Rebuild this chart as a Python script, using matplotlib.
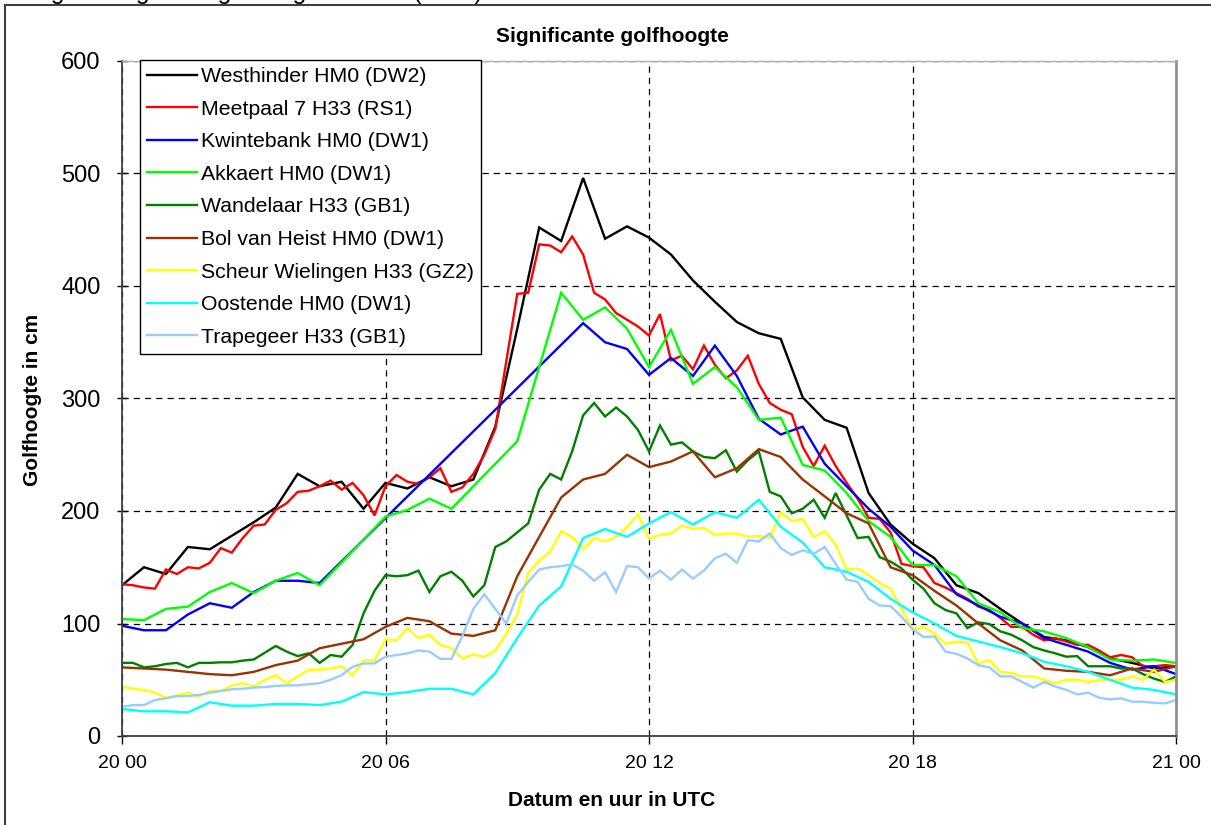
import numpy as np
import matplotlib
matplotlib.use("Agg")
import matplotlib.pyplot as plt
from matplotlib.patches import Rectangle

plt.rcParams['font.family'] = ['Liberation Sans', 'DejaVu Sans']

# ---------------- data (hours after 20 00 UTC, values in cm) ----------------
t_half = [i * 0.5 for i in range(49)]
t_quarter = [i * 0.25 for i in range(97)]

westhinder = [134, 150, 144, 168, 166, 178, 190, 203, 233, 222, 226, 202, 225, 220, 230, 222,
              228, 275, 362, 452, 440, 496, 442, 453, 443, 428, 405, 386, 368, 358, 353, 301,
              281, 274, 216, 188, 171, 158, 134, 127, 113, 100, 88, 85, 79, 69, 65, 60, 62]

meetpaal = [135, 134, 132, 131, 148, 144, 150, 149, 154, 167, 163, 176, 187, 188, 201, 207,
            217, 218, 222, 227, 219, 225, 214, 196, 222, 232, 226, 224, 230, 238, 217, 221,
            233, 250, 273, 333, 393, 394, 437, 436, 430, 444, 428, 394, 388, 376, 370, 364,
            356, 375, 334, 338, 326, 347, 330, 318, 325, 338, 313, 296, 290, 286, 257, 240,
            258, 240, 225, 211, 194, 193, 181, 153, 151, 150, 136, 132, 127, 122, 115, 112,
            105, 97, 97, 90, 85, 87, 84, 81, 81, 76, 70, 72, 70, 62, 62, 63, 62]

kwinte_t = [0, 0.5, 1, 1.5, 2, 2.5, 3, 3.5, 4, 4.5, 10.5, 11, 11.5, 12, 12.5, 13, 13.5, 14,
            14.5, 15, 15.5, 16, 16.5, 17, 17.5, 18, 18.5, 19, 19.5, 20, 20.5, 21, 21.5, 22,
            22.5, 23, 23.5, 24]
kwintebank = [98, 94, 94, 108, 118, 114, 128, 138, 138, 136, 367, 350, 344, 321, 336, 320,
              347, 320, 282, 268, 275, 242, 222, 202, 186, 165, 152, 126, 116, 106, 100, 87,
              81, 75, 65, 59, 62, 55]

akkaert_t = [0, 0.5, 1, 1.5, 2, 2.5, 3, 3.5, 4, 4.5, 6, 6.5, 7, 7.5, 9, 10, 10.5, 11, 11.5,
             12, 12.5, 13, 13.5, 14, 14.5, 15, 15.5, 16, 16.5, 17, 17.5, 18, 18.5, 19, 19.5,
             20, 20.5, 21, 21.5, 22, 22.5, 23, 23.5, 24]
akkaert = [104, 103, 113, 115, 128, 136, 127, 138, 145, 134, 195, 201, 211, 202, 262, 394,
           370, 381, 362, 328, 361, 313, 328, 310, 281, 283, 241, 236, 216, 191, 177, 152,
           152, 142, 118, 110, 96, 93, 87, 79, 68, 67, 68, 65]

wandelaar = [65, 65, 61, 62, 64, 65, 61, 65, 65, 65.5, 65.5, 67, 68, 74, 80, 75,
             71, 73.5, 65, 72, 70.5, 81, 109, 129, 143, 142, 143, 147, 128, 142, 146, 138,
             124, 134, 168, 173, 181, 189, 219, 233, 228, 253, 285, 296, 284, 292, 284, 272,
             253, 276, 259, 261, 253, 248, 247, 254, 235, 245, 253, 217, 213, 198, 202, 210,
             194, 216, 196, 176, 177, 159, 155, 149, 139, 131, 118, 112, 109, 96, 101, 99.5,
             93, 90, 85, 79, 76, 73.5, 70.5, 71, 62, 62, 62, 60, 60, 55, 51, 48, 53]

bol_t = [0, 0.5, 1, 1.5, 2, 2.5, 3, 3.5, 4, 4.5, 5, 5.5, 6, 6.5, 7, 7.5, 8, 8.5, 9, 9.5, 10,
         10.5, 11, 11.5, 12, 12.5, 13, 13.5, 14, 14.5, 15, 15.5, 16, 16.5, 17, 17.5, 18, 18.5,
         19, 19.5, 20, 20.5, 21, 21.5, 22, 22.5, 23, 23.5, 24]
bol_van_heist = [61, 60, 59, 57, 55, 54, 57, 63, 67, 78, 82, 86, 97, 105, 102, 91, 89, 94,
                 142, 177, 212, 228, 233, 250, 239, 244, 253, 230, 238, 255, 248, 228, 213,
                 198, 189, 150, 143, 129, 116, 100, 85, 76, 60, 58, 57, 54, 60, 57, 62]

scheur = [44, 42, 41, 38.5, 34, 36, 38.5, 35, 40, 40, 45, 47, 44, 50, 54, 47,
          53, 59, 59, 60, 62, 54, 67, 67.5, 86, 85, 96, 87, 90, 81, 78, 69,
          72.5, 70.5, 76, 91, 108, 145, 156, 164, 182, 177, 166, 176, 173, 177, 186, 197,
          175, 179, 180, 187, 184, 185, 179, 180, 180, 177, 178, 176, 199, 191, 193, 177,
          182, 170, 148, 149, 143, 136, 131, 113, 95, 97, 91, 82, 84, 83, 64.5, 67.5,
          57, 56, 53, 53, 50, 47, 50, 50, 48, 50, 50, 50, 53, 50, 59, 48, 50]

oostende = [24, 22, 22, 21, 30, 27, 27, 28.5, 28.5, 27.5, 30.5, 39, 37, 39, 42, 42,
            37, 56, 87, 116, 133, 176, 184, 177, 189, 199, 188, 199, 194, 210, 186, 172,
            150, 146, 137, 122, 110, 100, 89, 84, 79, 73.5, 66, 62, 57, 50, 43, 41, 37]

trapegeer = [26, 27.5, 27.5, 32, 33.5, 35.5, 35.5, 36.5, 38.5, 40, 41.5, 42, 43, 43.5, 44.5, 45,
             45, 46, 47, 50, 54, 61.5, 64.5, 64.5, 70.5, 72, 73.5, 76, 75, 68.5, 68.5, 89,
             113, 126, 113, 100, 125, 137, 148, 150, 151, 152.5, 147, 138, 145.5, 128, 151, 150,
             140, 147, 139, 148, 140, 147, 158, 162, 154, 174, 173, 180, 167, 161, 165, 162,
             168, 153, 139, 137, 122, 116, 115.5, 106, 95, 88, 88.5, 75, 73, 69, 63, 61,
             53, 53, 48, 43, 48, 44, 41, 37, 38.5, 34, 32.5, 33.5, 30.5, 30.5, 29.5, 29, 32]

labels = ["Westhinder HM0 (DW2)", "Meetpaal 7 H33 (RS1)", "Kwintebank HM0 (DW1)",
          "Akkaert HM0 (DW1)", "Wandelaar H33 (GB1)", "Bol van Heist HM0 (DW1)",
          "Scheur Wielingen H33 (GZ2)", "Oostende HM0 (DW1)", "Trapegeer H33 (GB1)"]
colors = ["#000000", "#FF0000", "#0000FF", "#00FF00", "#008000", "#993300",
          "#FFFF00", "#00FFFF", "#99CCFF"]
series = [(t_half, westhinder), (t_quarter, meetpaal), (kwinte_t, kwintebank),
          (akkaert_t, akkaert), (t_quarter, wandelaar), (bol_t, bol_van_heist),
          (t_quarter, scheur), (t_half, oostende), (t_quarter, trapegeer)]

xtick_pos = [0, 6, 12, 18, 24]
xtick_labels = ["20 00", "20 06", "20 12", "20 18", "21 00"]
yticks = [0, 100, 200, 300, 400, 500, 600]

# ---------------- figure ----------------
W, H = 1211, 825
fig = plt.figure(figsize=(W / 100, H / 100), dpi=100)
ax = fig.add_axes([122 / W, 1 - 736 / H, (1176 - 122) / W, (736 - 61) / H])

for (tx, vals), lab, col in zip(series, labels, colors):
    ax.plot(tx, vals, color=col, lw=1.7, label=lab, solid_joinstyle='miter')

ax.set_xlim(0, 24)
ax.set_ylim(0, 600)
ax.set_xticks(xtick_pos)
ax.set_xticklabels(xtick_labels, fontsize=14)
ax.set_yticks(yticks)
ax.set_yticklabels([str(v) for v in yticks], fontsize=17)
ax.tick_params(axis='y', direction='inout', length=7, width=1, pad=12)
ax.tick_params(axis='x', direction='out', length=6, width=1, pad=8)

ax.grid(True, color='black', lw=0.9, linestyle=(0, (5, 4)))
ax.set_axisbelow(True)

for s in ['left', 'bottom']:
    ax.spines[s].set_color('#404040')
    ax.spines[s].set_linewidth(1.3)
ax.spines['top'].set_color('#B0B0B0')
ax.spines['top'].set_linewidth(1.0)
ax.spines['right'].set_color('#909090')
ax.spines['right'].set_linewidth(2.0)

fig.text(612 / W, 1 - 36 / H, "Significante golfhoogte", fontsize=15, fontweight='bold',
         ha='center', va='center')
fig.text(612 / W, 1 - 800 / H, "Datum en uur in UTC", fontsize=15, fontweight='bold',
         ha='center', va='center')
fig.text(33 / W, 1 - 400 / H, "Golfhoogte in cm", fontsize=15, fontweight='bold',
         ha='center', va='center', rotation=90)

leg = ax.legend(loc='upper left', bbox_to_anchor=(140 / W, 1 - 60 / H),
                bbox_transform=fig.transFigure, borderaxespad=0, fontsize=15.3,
                frameon=True, fancybox=False, edgecolor='black', framealpha=1,
                handlelength=2.35, handletextpad=0.2, labelspacing=0.64,
                borderpad=0.33)
leg.get_frame().set_linewidth(1.0)

# outer frame of the chart object
fig.patches.append(Rectangle((5 / W, -0.02), 1.2, 1 - 5 / H + 0.02,
                             transform=fig.transFigure, fill=False,
                             edgecolor='#404040', lw=1.5))

# heading above the chart, cut off by the image top
fig.text(30 / W, 1.0 + 1 / H, "Figuur 4: golfhoogte langs de kust (Hm0)",
         fontsize=18, va='baseline', ha='left')

fig.savefig("out.png", dpi=100)
